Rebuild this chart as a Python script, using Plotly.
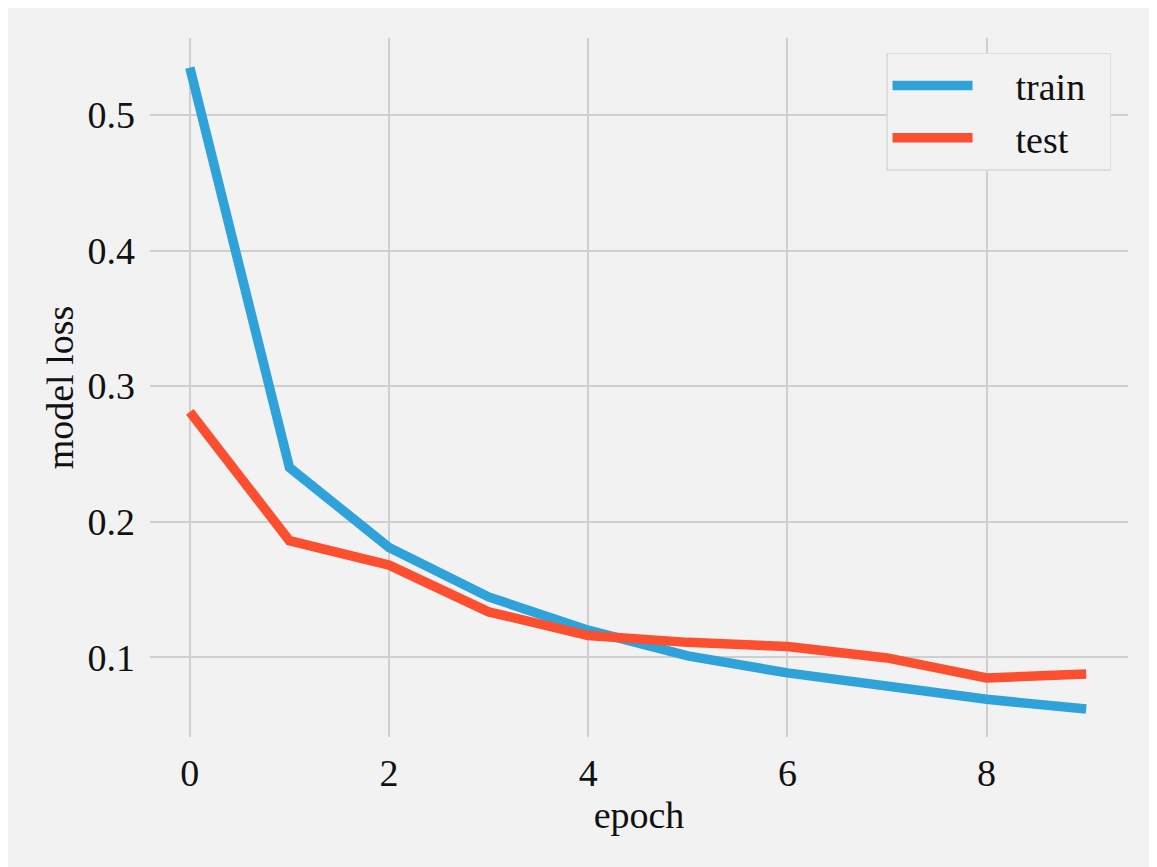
import plotly.graph_objects as go

epochs = [0, 1, 2, 3, 4, 5, 6, 7, 8, 9]
train_loss = [0.535, 0.240, 0.181, 0.1445, 0.120, 0.101, 0.0885, 0.078, 0.069, 0.0618]
test_loss = [0.281, 0.186, 0.168, 0.1335, 0.116, 0.111, 0.108, 0.0995, 0.0847, 0.0877]
x_ticks = [0, 2, 4, 6, 8]
y_ticks = [0.1, 0.2, 0.3, 0.4, 0.5]

FONT = "Liberation Serif"
BG = "#f2f2f2"
GRID = "#cfcfcf"
SP = "\u00a0" * 4
TR = "\u00a0" * 2

fig = go.Figure()
fig.add_trace(go.Scatter(x=epochs, y=train_loss, mode="lines", name=SP + "train" + TR,
                         line=dict(color="#30a2da", width=9.5)))
fig.add_trace(go.Scatter(x=epochs, y=test_loss, mode="lines", name=SP + "test" + TR,
                         line=dict(color="#fc4f30", width=9.5)))

# page body has an 8px margin, so the figure is drawn from (8, 8)
W, H = 1149, 859
L, R, T, B = 142, 29, 30, 130

fig.update_layout(
    width=W, height=H,
    margin=dict(l=L, r=R, t=T, b=B),
    paper_bgcolor=BG, plot_bgcolor=BG,
    font=dict(family=FONT, size=38, color="#111111"),
    showlegend=True,
    legend=dict(x=0.7526, y=0.979, xanchor="left", yanchor="top",
                bgcolor=BG, bordercolor="#dedede", borderwidth=1.5,
                font=dict(family=FONT, size=38), itemwidth=80,
                tracegroupgap=0),
    xaxis=dict(range=[-0.40, 9.42], tickvals=x_ticks, ticktext=[str(v) for v in x_ticks],
               showgrid=True, gridcolor=GRID, gridwidth=2, zeroline=False, showline=False,
               ticks="", ticklabelstandoff=10,
               title=dict(text="epoch", standoff=3, font=dict(family=FONT, size=38))),
    yaxis=dict(range=[0.0412, 0.5568], tickvals=y_ticks, ticktext=[f"{v:.1f}" for v in y_ticks],
               showgrid=True, gridcolor=GRID, gridwidth=2, zeroline=False, showline=False,
               ticks="", ticklabelstandoff=14,
               title=dict(text="model loss", standoff=2, font=dict(family=FONT, size=38))),
)

fig.write_html("out.html")
